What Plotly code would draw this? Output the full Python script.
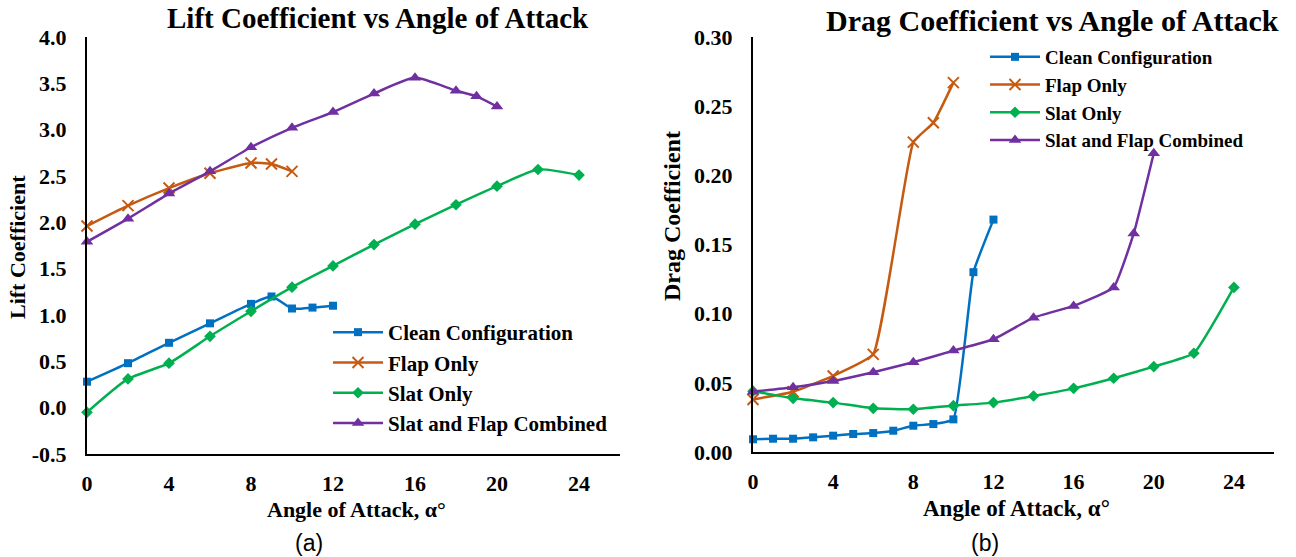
import plotly.graph_objects as go

W, H = 1296, 557

# ---------------- data ----------------
series_names = ["Clean Configuration", "Flap Only", "Slat Only", "Slat and Flap Combined"]

# Lift coefficient (a)
lift_clean_x = [0, 2, 4, 6, 8, 9, 10, 11, 12]
lift_clean_y = [0.28, 0.48, 0.70, 0.91, 1.12, 1.20, 1.07, 1.08, 1.10]
lift_flap_x = [0, 2, 4, 6, 8, 9, 10]
lift_flap_y = [1.96, 2.18, 2.37, 2.53, 2.64, 2.63, 2.55]
lift_slat_x = [0, 2, 4, 6, 8, 10, 12, 14, 16, 18, 20, 22, 24]
lift_slat_y = [-0.05, 0.31, 0.48, 0.77, 1.04, 1.30, 1.53, 1.76, 1.98, 2.19, 2.39, 2.57, 2.51]
lift_both_x = [0, 2, 4, 6, 8, 10, 12, 14, 16, 18, 19, 20]
lift_both_y = [1.79, 2.04, 2.31, 2.55, 2.81, 3.02, 3.19, 3.39, 3.56, 3.42, 3.36, 3.25]

# Drag coefficient (b)
drag_clean_x = [0, 1, 2, 3, 4, 5, 6, 7, 8, 9, 10, 11, 12]
drag_clean_y = [0.0092, 0.0096, 0.0096, 0.0106, 0.0118, 0.0130, 0.0137, 0.0154, 0.0190,
                0.0202, 0.0236, 0.130, 0.168]
drag_flap_x = [0, 2, 4, 6, 8, 9, 10]
drag_flap_y = [0.038, 0.0436, 0.055, 0.0706, 0.224, 0.238, 0.267]
drag_slat_x = [0, 2, 4, 6, 8, 10, 12, 14, 16, 18, 20, 22, 24]
drag_slat_y = [0.044, 0.0388, 0.0357, 0.0316, 0.0309, 0.0335, 0.0357, 0.0405, 0.046,
               0.0533, 0.0617, 0.0714, 0.119]
drag_both_x = [0, 2, 4, 6, 8, 10, 12, 14, 16, 18, 19, 20]
drag_both_y = [0.0436, 0.0468, 0.0513, 0.0576, 0.0649, 0.0733, 0.0815, 0.0971, 0.1056,
               0.119, 0.158, 0.216]

x_ticks = [0, 4, 8, 12, 16, 20, 24]
lift_ticks = [-0.5, 0.0, 0.5, 1.0, 1.5, 2.0, 2.5, 3.0, 3.5, 4.0]
lift_tick_text = ["-0.5", "0.0", "0.5", "1.0", "1.5", "2.0", "2.5", "3.0", "3.5", "4.0"]
drag_ticks = [0.0, 0.05, 0.10, 0.15, 0.20, 0.25, 0.30]
drag_tick_text = ["0.00", "0.05", "0.10", "0.15", "0.20", "0.25", "0.30"]

# ---------------- styles ----------------
colors = ["#0070C0", "#C55A11", "#00B050", "#7030A0"]
symbols = ["square", "x-thin", "diamond", "triangle-up"]
msizes = [8, 11, 9, 11]

SERIF = "Liberation Serif, Times New Roman, serif"

fig = go.Figure()

lift_data = [(lift_clean_x, lift_clean_y), (lift_flap_x, lift_flap_y),
             (lift_slat_x, lift_slat_y), (lift_both_x, lift_both_y)]
drag_data = [(drag_clean_x, drag_clean_y), (drag_flap_x, drag_flap_y),
             (drag_slat_x, drag_slat_y), (drag_both_x, drag_both_y)]


def marker_for(i):
    if symbols[i] == "x-thin":
        return dict(symbol="x-thin", size=msizes[i], color=colors[i],
                    line=dict(color=colors[i], width=2))
    return dict(symbol=symbols[i], size=msizes[i], color=colors[i],
                line=dict(width=0))


for i, (xs, ys) in enumerate(lift_data):
    fig.add_trace(go.Scatter(
        x=xs, y=ys, name=series_names[i], mode="lines+markers",
        line=dict(color=colors[i], width=2.5, shape="spline", smoothing=0.6),
        marker=marker_for(i), xaxis="x", yaxis="y", legend="legend",
        cliponaxis=False))

for i, (xs, ys) in enumerate(drag_data):
    fig.add_trace(go.Scatter(
        x=xs, y=ys, name=series_names[i], mode="lines+markers",
        line=dict(color=colors[i], width=2.5, shape="spline", smoothing=0.35),
        marker=marker_for(i), xaxis="x2", yaxis="y2", legend="legend2",
        cliponaxis=False))


def px_x(p):
    return p / W


def px_y(p):
    return 1 - p / H


def axis_common():
    return dict(showline=True, linecolor="black", linewidth=2, showgrid=False,
                zeroline=False, ticks="", automargin=False, fixedrange=True,
                tickfont=dict(family=SERIF, size=22, color="black", weight="bold"))


fig.update_layout(
    template="none",
    width=W, height=H,
    margin=dict(l=0, r=0, t=0, b=0, pad=0, autoexpand=False),
    paper_bgcolor="white", plot_bgcolor="white",
    font=dict(family=SERIF, color="black"),
    xaxis=dict(domain=[px_x(87), px_x(620)], range=[0, 26], tickvals=x_ticks,
               anchor="y", ticklabelstandoff=9, **axis_common()),
    yaxis=dict(domain=[px_y(454), px_y(37)], range=[-0.5, 4.0], tickvals=lift_ticks,
               ticktext=lift_tick_text, anchor="x", ticklabelstandoff=14,
               **axis_common()),
    xaxis2=dict(domain=[px_x(753), px_x(1274)], range=[0, 26], tickvals=x_ticks,
                anchor="y2", ticklabelstandoff=9, **axis_common()),
    yaxis2=dict(domain=[px_y(452), px_y(37)], range=[0, 0.30], tickvals=drag_ticks,
                ticktext=drag_tick_text, anchor="x2", ticklabelstandoff=14,
                **axis_common()),
    legend=dict(x=px_x(328), y=px_y(312), xanchor="left", yanchor="top",
                font=dict(family=SERIF, size=21, color="black", weight="bold"),
                bgcolor="rgba(0,0,0,0)", itemwidth=50, tracegroupgap=0),
    legend2=dict(x=px_x(985), y=px_y(38), xanchor="left", yanchor="top",
                 font=dict(family=SERIF, size=19, color="black", weight="bold"),
                 bgcolor="rgba(0,0,0,0)", itemwidth=50, tracegroupgap=0),
)

ann = []
ann.append(dict(text="Lift Coefficient vs Angle of Attack", x=px_x(378), y=px_y(18),
                font=dict(family=SERIF, size=29, color="black", weight="bold")))
ann.append(dict(text="Drag Coefficient vs Angle of Attack", x=px_x(1052), y=px_y(20),
                font=dict(family=SERIF, size=30, color="black", weight="bold")))
ann.append(dict(text="Lift Coefficient", x=px_x(18), y=px_y(247), textangle=-90,
                font=dict(family=SERIF, size=22, color="black", weight="bold")))
ann.append(dict(text="Drag Coefficient", x=px_x(672), y=px_y(216), textangle=-90,
                font=dict(family=SERIF, size=24, color="black", weight="bold")))
ann.append(dict(text="Angle of Attack, α°", x=px_x(356), y=px_y(509),
                font=dict(family=SERIF, size=22, color="black", weight="bold")))
ann.append(dict(text="Angle of Attack, α°", x=px_x(1016), y=px_y(508),
                font=dict(family=SERIF, size=23, color="black", weight="bold")))
ann.append(dict(text="(a)", x=px_x(309), y=px_y(543),
                font=dict(family="Liberation Sans, Arial, sans-serif", size=23, color="black")))
ann.append(dict(text="(b)", x=px_x(985), y=px_y(543),
                font=dict(family="Liberation Sans, Arial, sans-serif", size=23, color="black")))
for a in ann:
    a.update(xref="paper", yref="paper", showarrow=False, xanchor="center",
             yanchor="middle")
fig.update_layout(annotations=ann)

fig.write_html("out.html")
